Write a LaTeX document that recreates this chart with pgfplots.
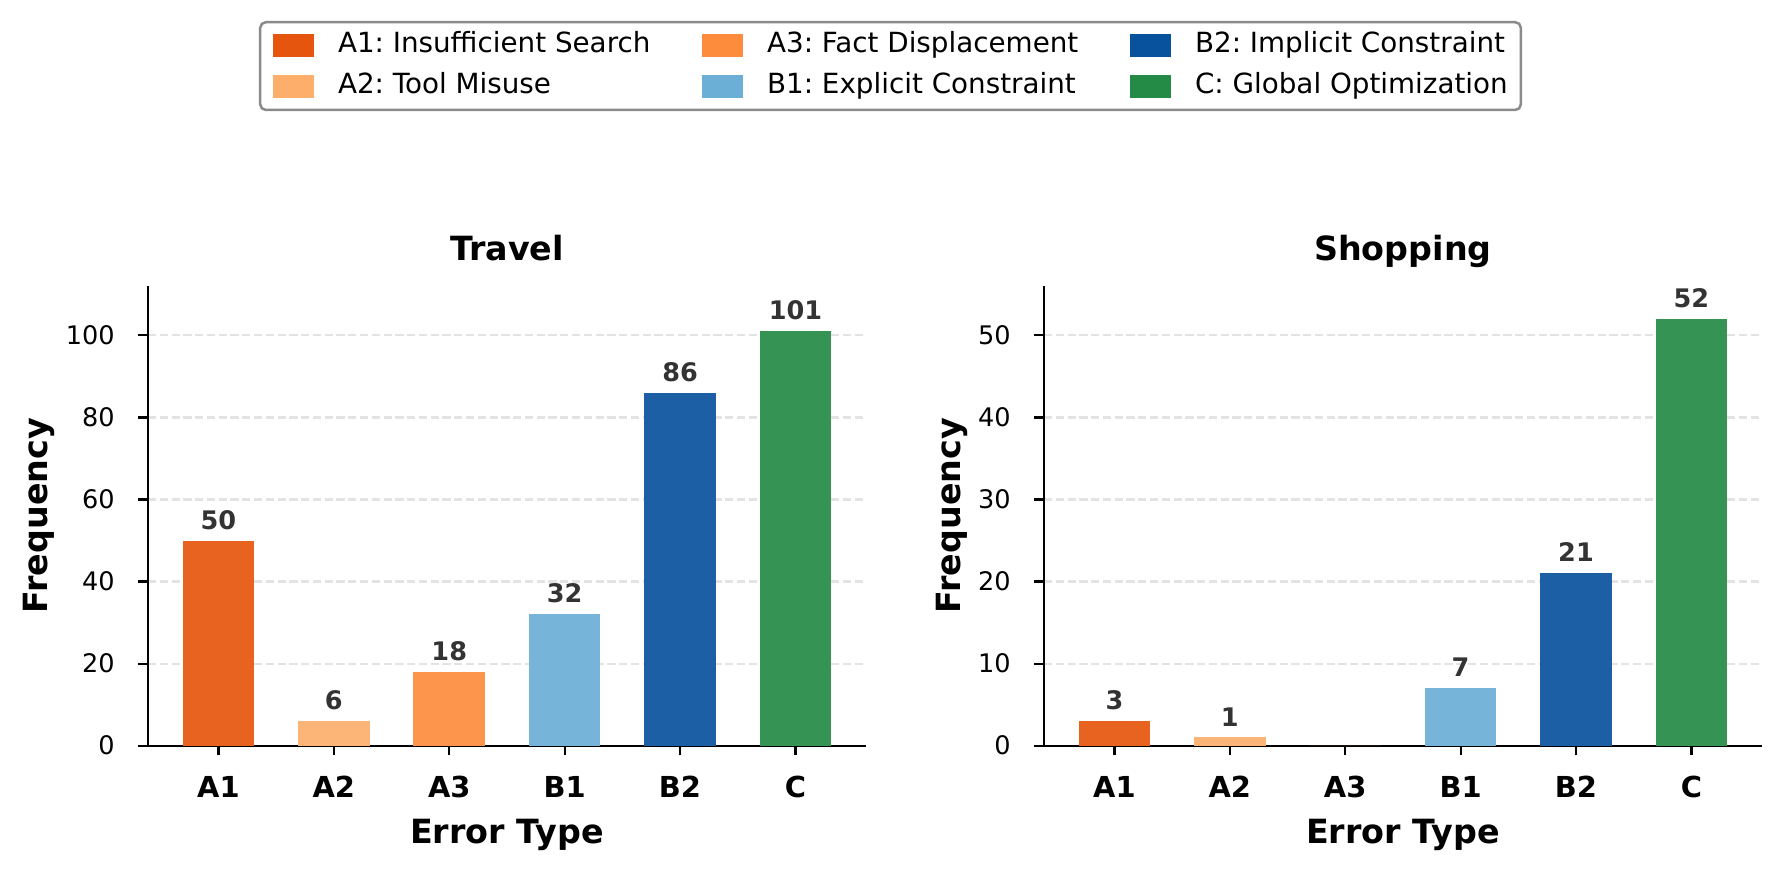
\documentclass[border=0pt]{standalone}
\usepackage{pgfplots}
\pgfplotsset{compat=1.18}
\usepackage{fontspec}
\setmainfont{DejaVu Sans}
\frenchspacing
\definecolor{cA1}{HTML}{E6550D}
\definecolor{cA2}{HTML}{FDAE6B}
\definecolor{cA3}{HTML}{FD8D3C}
\definecolor{cB1}{HTML}{6BAED6}
\definecolor{cB2}{HTML}{08519C}
\definecolor{cC}{HTML}{238B45}
\definecolor{lbl}{HTML}{333333}
\definecolor{gridc}{HTML}{E3E3E3}
\definecolor{legframe}{HTML}{8A8A8A}
\pgfplotsset{
  bb/.style={ybar, bar width=0.62, bar shift=0pt, draw=none, forget plot,
    fill=#1!92!white},
  lab/.style={nodes near coords},
  panel/.style={
    scale only axis, width=258.4pt, height=165.6pt,
    xmin=-0.61, xmax=5.61, ymin=0,
    axis x line*=bottom, axis y line*=left,
    axis line style={line width=0.8pt},
    tick align=outside, major tick length=3.5pt,
    every tick/.style={black, line width=0.8pt},
    xtick={0,1,2,3,4,5}, xticklabels={A1,A2,A3,B1,B2,C},
    xticklabel style={font=\bfseries\fontsize{10.4}{12}\selectfont, anchor=base, yshift=-15.3pt},
    yticklabel style={font=\fontsize{9.2}{11}\selectfont, xshift=-5pt},
    /pgf/number format/assume math mode=true,
    ymajorgrids,
    major grid style={draw=gridc, line width=0.8pt, dash pattern=on 2.96pt off 1.28pt},
    title style={at={(axis description cs:0.5,1)}, anchor=base, yshift=2.9pt, font=\bfseries\fontsize{12}{14}\selectfont},
    xlabel={Error Type}, ylabel={Frequency},
    xlabel style={at={(axis description cs:0.5,0)}, anchor=base, yshift=-35.3pt, font=\bfseries\fontsize{12}{14}\selectfont},
    every node near coord/.append style={font=\bfseries\fontsize{9.2}{11}\selectfont, color=lbl, anchor=base, yshift=4.1pt},
  },
  legpatch/.style={legend image code/.code={\fill[#1, sharp corners] (0pt,-3.6pt) rectangle (13.8pt,3.6pt);}},
}
\begin{document}
\begin{tikzpicture}
\useasboundingbox (0,0) rectangle (640.8pt,313.2pt);
\begin{axis}[panel, at={(53.3pt,44.75pt)}, anchor=south west,
  ymax=112.1, ytick={0,20,40,60,80,100}, title={Travel},
  ylabel style={at={(axis description cs:-0.1525,0.5)}, anchor=center, font=\bfseries\fontsize{12}{14}\selectfont},
  legend columns=3,
  legend style={at={(1.0344,1.4774)}, anchor=center, draw=legframe, line width=0.9pt, rounded corners=2pt,
    font=\fontsize{10}{12}\selectfont, inner xsep=4.7pt, inner ysep=3.4pt,
    row sep=4.8pt,
    nodes={inner sep=0pt, text height=7.6pt, text depth=2.4pt},
    /tikz/every odd column/.append style={column sep=8.6pt},
    /tikz/every even column/.append style={column sep=18.7pt}},
  legend cell align=left]
\addplot[bb=cA1, lab] coordinates {(0,50)};
\addplot[bb=cA2, lab] coordinates {(1,6)};
\addplot[bb=cA3, lab] coordinates {(2,18)};
\addplot[bb=cB1, lab] coordinates {(3,32)};
\addplot[bb=cB2, lab] coordinates {(4,86)};
\addplot[bb=cC, lab] coordinates {(5,101)};
\addlegendimage{legpatch=cA1}
\addlegendentry{A1: Insufficient Search}
\addlegendimage{legpatch=cA3}
\addlegendentry{A3: Fact Displacement}
\addlegendimage{legpatch=cB2}
\addlegendentry{B2: Implicit Constraint}
\addlegendimage{legpatch=cA2}
\addlegendentry{A2: Tool Misuse}
\addlegendimage{legpatch=cB1}
\addlegendentry{B1: Explicit Constraint}
\addlegendimage{legpatch=cC}
\addlegendentry{C: Global Optimization}
\end{axis}
\begin{axis}[panel, at={(375.85pt,44.75pt)}, anchor=south west,
  ymax=56.05, ytick={0,10,20,30,40,50}, title={Shopping},
  ylabel style={at={(axis description cs:-0.1277,0.5)}, anchor=center, font=\bfseries\fontsize{12}{14}\selectfont}]
\addplot[bb=cA1, lab] coordinates {(0,3)};
\addplot[bb=cA2, lab] coordinates {(1,1)};
\addplot[bb=cA3] coordinates {(2,0)};
\addplot[bb=cB1, lab] coordinates {(3,7)};
\addplot[bb=cB2, lab] coordinates {(4,21)};
\addplot[bb=cC, lab] coordinates {(5,52)};
\end{axis}
\end{tikzpicture}
\end{document}
